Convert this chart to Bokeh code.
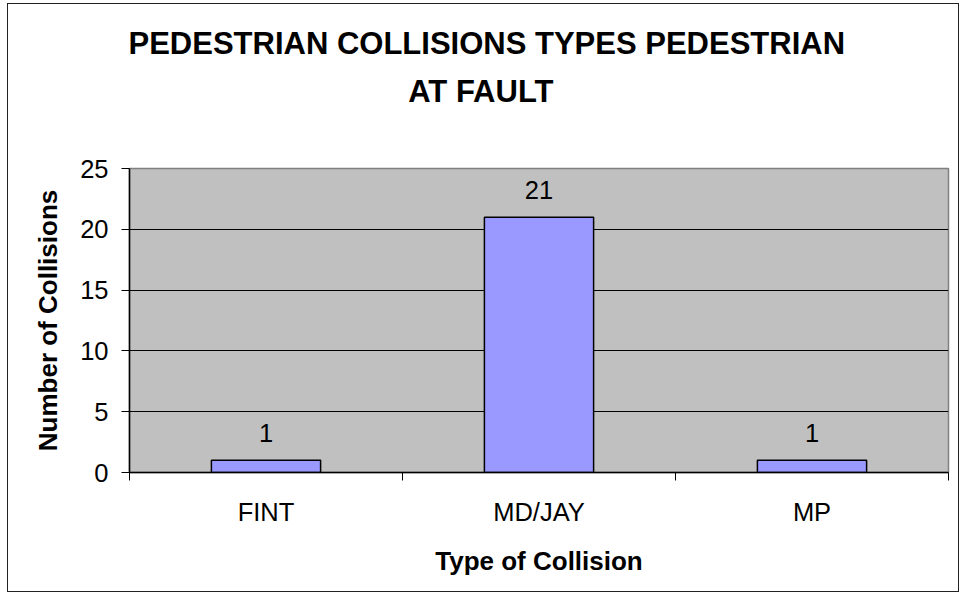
from bokeh.plotting import figure
from bokeh.models import Range1d, FixedTicker, Title, ColumnDataSource
from bokeh.core.properties import value
from bokeh.embed import file_html
from bokeh.resources import INLINE

categories = ["FINT", "MD/JAY", "MP"]
collisions = [1, 21, 1]
y_ticks = [0, 5, 10, 15, 20, 25]
title_lines = ["PEDESTRIAN COLLISIONS TYPES PEDESTRIAN", "AT FAULT"]
x_title = "Type of Collision"
y_title = "Number of Collisions"

centers = [i + 0.5 for i in range(len(categories))]
bounds = list(range(len(categories) + 1))
src = ColumnDataSource(dict(x=centers, top=collisions,
                            label=[str(v) for v in collisions]))

FONT = "Liberation Sans"

p = figure(width=952, height=589, output_backend="svg", toolbar_location=None,
           title=None,
           x_range=Range1d(0, len(categories)), y_range=Range1d(y_ticks[0], y_ticks[-1]),
           min_border_left=121, min_border_right=12, min_border_top=164,
           min_border_bottom=121,
           background_fill_color="#C0C0C0", border_fill_color="white",
           outline_line_color="#808080", outline_line_width=1.5)
p.styles = {"border": "1px solid #222", "margin-left": "7px", "margin-top": "3px"}

p.vbar(x="x", top="top", bottom=0, width=0.4, source=src,
       fill_color="#9999FF", line_color="black", line_width=1.5)
p.text(x="x", y="top", text="label", source=src, text_align="center",
       text_baseline="middle", y_offset=-27, text_font=value(FONT),
       text_font_size="25.5px", text_color="black")

# chart title: spacer (nearest the frame), then line 2, then line 1
def title(text, standoff, offset):
    return Title(text=text, align="left", offset=offset, standoff=standoff,
                 text_font=FONT, text_font_size="31px", text_font_style="bold",
                 text_color="black")

p.add_layout(title(" ", 10.8, 0), "above")
p.add_layout(title(title_lines[1], 22.8, 278.75), "above")
p.add_layout(title(title_lines[0], 0, -1), "above")

xa = p.xaxis[0]
xa.ticker = FixedTicker(ticks=centers, minor_ticks=bounds)
xa.major_label_overrides = {c: lab for c, lab in zip(centers, categories)}
xa.major_tick_out = 0
xa.major_tick_in = 0
xa.minor_tick_out = 8
xa.minor_tick_in = 0
xa.minor_tick_line_color = "black"
xa.axis_line_color = "black"
xa.axis_line_width = 1.5
xa.major_label_text_font = FONT
xa.major_label_text_font_size = "25.5px"
xa.major_label_text_color = "black"
xa.major_label_standoff = 17
xa.axis_label = x_title
xa.axis_label_text_font = FONT
xa.axis_label_text_font_size = "26px"
xa.axis_label_text_font_style = "bold"
xa.axis_label_text_color = "black"
xa.axis_label_standoff = 17

ya = p.yaxis[0]
ya.ticker = FixedTicker(ticks=y_ticks, minor_ticks=[])
ya.major_tick_out = 8
ya.major_tick_in = 0
ya.major_tick_line_color = "black"
ya.axis_line_color = "black"
ya.axis_line_width = 1.5
ya.major_label_text_font = FONT
ya.major_label_text_font_size = "25.5px"
ya.major_label_text_color = "black"
ya.major_label_standoff = 13
ya.axis_label = y_title
ya.axis_label_text_font = FONT
ya.axis_label_text_font_size = "26px"
ya.axis_label_text_font_style = "bold"
ya.axis_label_text_color = "black"
ya.axis_label_standoff = 14

p.xgrid.grid_line_color = None
p.ygrid.ticker = FixedTicker(ticks=y_ticks)
p.ygrid.grid_line_color = "black"
p.ygrid.grid_line_width = 1

open("out.html", "w").write(file_html(p, INLINE))
